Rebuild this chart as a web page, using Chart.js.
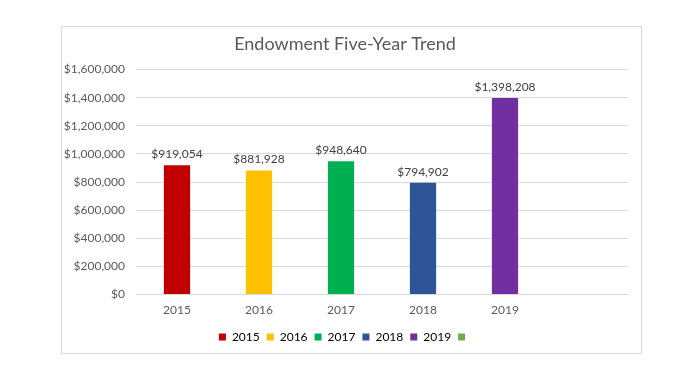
<!DOCTYPE html>
<html>
<head>
<meta charset="utf-8">
<script src="https://cdn.jsdelivr.net/npm/chart.js@4.4.1/dist/chart.umd.min.js"></script>
<style>
  html, body { margin: 0; padding: 0; background: #ffffff; }
  #frame {
    position: absolute;
    left: 61px;
    top: 26px;
    width: 579px;
    height: 326px;
    border: 1px solid #d9d9d9;
  }
  #chart { display: block; }
</style>
</head>
<body>
<div id="frame">
  <canvas id="chart" width="579" height="326"></canvas>
</div>
<script>
// Chart data
const years = ['2015', '2016', '2017', '2018', '2019', ''];
const endowment = [919054, 881928, 948640, 794902, 1398208, null];
const barColors = ['#C00000', '#FFC000', '#00B050', '#2F5597', '#7030A0', '#70AD47'];
const yTicks = [0, 200000, 400000, 600000, 800000, 1000000, 1200000, 1400000, 1600000];

const textColor = '#595959';
const fontFamily = 'Lato, "Open Sans", sans-serif';

function money(v) {
  return '$' + Number(v).toLocaleString('en-US');
}

// Small plugin: value labels above each bar
const valueLabels = {
  id: 'valueLabels',
  afterDatasetsDraw(chart) {
    const ctx = chart.ctx;
    const meta = chart.getDatasetMeta(0);
    ctx.save();
    ctx.font = '12px ' + fontFamily;
    ctx.fillStyle = '#404040';
    ctx.textAlign = 'center';
    ctx.textBaseline = 'bottom';
    meta.data.forEach((bar, i) => {
      const v = endowment[i];
      if (v === null || v === undefined) return;
      ctx.fillText(money(v), bar.x, bar.y - 5);
    });
    ctx.restore();
  }
};

const canvas = document.getElementById('chart');

new Chart(canvas, {
  type: 'bar',
  data: {
    labels: years,
    datasets: [{
      label: 'Endowment',
      data: endowment,
      backgroundColor: barColors,
      borderWidth: 0,
      barPercentage: 0.32,
      categoryPercentage: 1
    }]
  },
  options: {
    responsive: false,
    animation: false,
    layout: {
      padding: { top: 6, right: 13, bottom: 0, left: 0 }
    },
    plugins: {
      title: {
        display: true,
        text: 'Endowment Five-Year Trend',
        color: textColor,
        font: { family: fontFamily, size: 18, weight: 'normal' },
        padding: { top: 0, bottom: 15 }
      },
      legend: {
        position: 'bottom',
        labels: {
          color: textColor,
          font: { family: fontFamily, size: 12 },
          boxWidth: 7,
          boxHeight: 7,
          padding: 7,
          generateLabels(chart) {
            return years.map((y, i) => ({
              text: y,
              fillStyle: barColors[i],
              strokeStyle: barColors[i],
              lineWidth: 0,
              hidden: false,
              index: i
            }));
          }
        },
        onClick: null
      },
      tooltip: { enabled: false }
    },
    scales: {
      x: {
        grid: { display: false },
        border: { color: '#d9d9d9' },
        afterFit(scale) { scale.height += 7; },
        ticks: {
          color: textColor,
          font: { family: fontFamily, size: 12 },
          padding: 0
        }
      },
      y: {
        min: 0,
        max: 1600000,
        afterFit(scale) { scale.width = 74; },
        afterBuildTicks(scale) {
          scale.ticks = yTicks.map(v => ({ value: v }));
        },
        grid: { color: '#d9d9d9', drawTicks: false },
        border: { display: false },
        ticks: {
          color: textColor,
          font: { family: fontFamily, size: 12 },
          padding: 11,
          callback: v => money(v)
        }
      }
    }
  },
  plugins: [valueLabels]
});
</script>
</body>
</html>
